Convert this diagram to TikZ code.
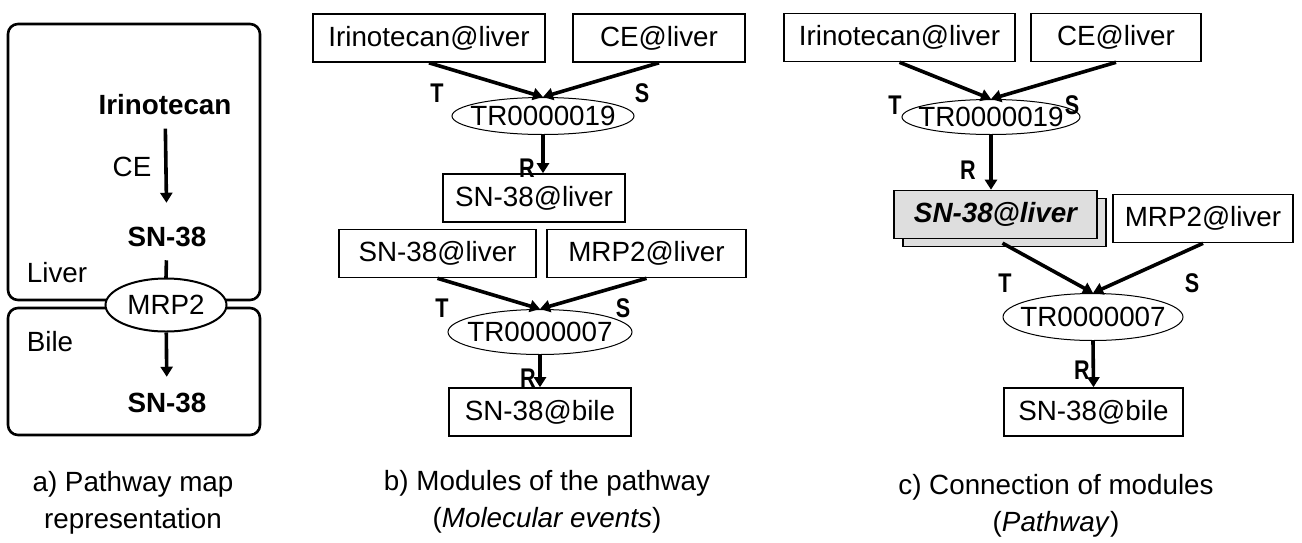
\documentclass[tikz,border=0pt]{standalone}
\usepackage{fontspec}
\setmainfont{Liberation Sans}
\newfontfamily\rolefont[FakeStretch=0.8]{Liberation Sans}
\usetikzlibrary{arrows.meta,shapes.geometric,shadows}
\definecolor{shade}{HTML}{DEDEDE}
\begin{document}
\begin{tikzpicture}[x=0.5pt,y=-0.5pt,font=\fontsize{13.9}{18.5}\selectfont,
  mol/.style={draw,line width=0.8pt,inner sep=0pt,minimum height=24pt,minimum width={#1*0.5pt}},
  rxn/.style 2 args={ellipse,draw,line width=0.5pt,fill=white,inner sep=-6pt,
    minimum width={#1*0.5pt},minimum height={#2*0.5pt}},
  role/.style={font=\rolefont\bfseries\fontsize{13.5}{15}\selectfont,inner sep=0pt},
  flow/.style={line width=1.8pt,-{Triangle[length=5pt,width=6pt]}},
  comp/.style={line width=1.3pt,rounded corners=5pt},
  chem/.style={font=\bfseries\fontsize{13.9}{16}\selectfont,inner sep=2pt}]
  \useasboundingbox (0,0) rectangle (1302,542);

  % a) pathway map
  \draw[comp] (8,24) rectangle (260,300);
  \draw[comp] (8,308) rectangle (260,435);
  \node[chem] (irino) at (165,105) {Irinotecan};
  \node[chem] (sna) at (167,237) {SN-38};
  \node[chem] (snb) at (167,403) {SN-38};
  \node (ce) at (132,167) {CE};
  \node (liver) at (57,273) {Liver};
  \node (bile) at (50,342) {Bile};
  \draw[line width=1.8pt,shorten <=4.5pt] (sna) -- (166,278);
  \node[rxn={121}{53},line width=1pt] (mrp) at (166,305) {MRP2};
  \draw[flow,shorten <=4.5pt,shorten >=10pt] (irino) -- (sna);
  \draw[flow,shorten >=6pt] (mrp) -- (snb);
  \node[align=center] (capa) at (133,503) {a) Pathway map\\representation};

  % b) modules
  \node[mol=232] (ir1) at (429,38) {Irinotecan@liver};
  \node[mol=172] (ce1) at (659,38) {CE@liver};
  \node[rxn={182}{37}] (tr19) at (543,116) {TR0000019};
  \node[mol=182] (sn1) at (534,198) {SN-38@liver};
  \node[mol=197] (sn2) at (437.5,253.5) {SN-38@liver};
  \node[mol=199] (mrp1) at (646.5,253.5) {MRP2@liver};
  \node[rxn={184}{45}] (tr07) at (540,332) {TR0000007};
  \node[mol=182] (bile1) at (540,412) {SN-38@bile};
  \draw[flow] (ir1.south) -- (tr19.north);
  \draw[flow] (ce1.south) -- (tr19.north);
  \draw[flow] (tr19.south) -- (tr19.south |- sn1.north);
  \draw[flow] (sn2.south) -- (tr07.north);
  \draw[flow] (mrp1.south) -- (tr07.north);
  \draw[flow] (tr07.south) -- (bile1.north);
  \node[role] (t1) at (437,93) {T};
  \node[role] (s1) at (642,93) {S};
  \node[role] (r1) at (527,168) {R};
  \node[role] (t2) at (442,308) {T};
  \node[role] (s2) at (623,308) {S};
  \node[role] (r2) at (528,378) {R};
  \node[align=center] (capb) at (547,502) {b) Modules of the pathway\\(\textit{Molecular events})};

  % c) connection
  \node[mol=231] (ir2) at (899.5,37.5) {Irinotecan@liver};
  \node[mol=170] (ce2) at (1116,37.5) {CE@liver};
  \node[rxn={178}{35}] (tr19b) at (991,117) {TR0000019};
  \node[mol=203,fill=shade,copy shadow={shadow xshift=4.5pt,shadow yshift=-4pt}] (sn3) at (995.5,214.5) {\bfseries\itshape SN-38@liver};
  \node[mol=180] (mrp2) at (1203,218.5) {MRP2@liver};
  \node[rxn={180}{47}] (tr07b) at (1093,317) {TR0000007};
  \node[mol=179] (bile2) at (1093.5,412) {SN-38@bile};
  \draw[flow] (ir2.south) -- (tr19b.north);
  \draw[flow] (ce2.south) -- (tr19b.north);
  \draw[flow] (tr19b.south) -- (tr19b.south |- sn3.north);
  \draw[flow,shorten <=4pt] (sn3.south) -- (tr07b.north);
  \draw[flow] (mrp2.south) -- (tr07b.north);
  \draw[flow] (tr07b.south) -- (bile2.north);
  \node[role] (t3) at (895,105) {T};
  \node[role] (s3) at (1072,105) {S};
  \node[role] (r3) at (968,170) {R};
  \node[role] (t4) at (1005,283) {T};
  \node[role] (s4) at (1192,283) {S};
  \node[role] (r4) at (1082,370) {R};
  \node[align=center] (capc) at (1056,506) {c) Connection of modules\\(\textit{Pathway})};
\end{tikzpicture}
\end{document}
